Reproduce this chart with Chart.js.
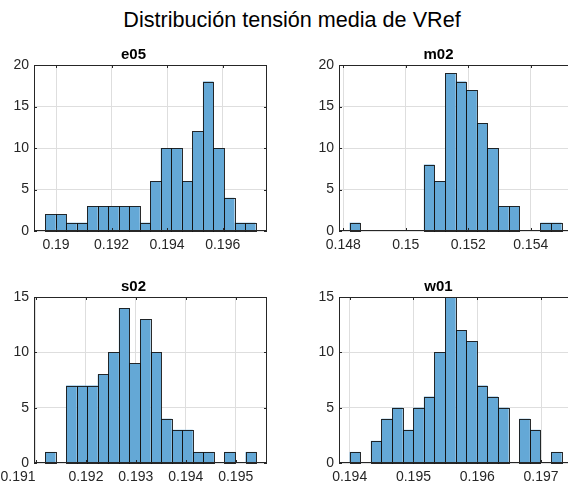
<!DOCTYPE html>
<html>
<head>
<meta charset="utf-8">
<script src="https://cdn.jsdelivr.net/npm/chart.js@4/dist/chart.umd.min.js"></script>
<style>
  html, body { margin: 0; padding: 0; background: #fff; overflow: hidden; }
  body { width: 568px; height: 487px; position: relative; }
  #suptitle {
    position: absolute; left: 8px; top: 7px; width: 568px; text-align: center;
    font: 21.6px "Liberation Sans", Arial, sans-serif; line-height: 26px; color: #000;
    white-space: nowrap;
  }
  .panel { position: absolute; }
</style>
</head>
<body>
<div id="suptitle">Distribución tensión media de VRef</div>
<div class="panel" style="left:0px;top:44px;width:284px;height:216px"><canvas id="c1"></canvas></div>
<div class="panel" style="left:305px;top:44px;width:284px;height:216px"><canvas id="c2"></canvas></div>
<div class="panel" style="left:0px;top:276px;width:284px;height:216px"><canvas id="c3"></canvas></div>
<div class="panel" style="left:305px;top:276px;width:284px;height:216px"><canvas id="c4"></canvas></div>
<script>
// Histogram counts per bin (100 samples each)
const e05Counts = [2, 2, 1, 1, 3, 3, 3, 3, 3, 1, 6, 10, 10, 6, 12, 18, 10, 4, 1, 1];
const m02Counts = [1, 0, 0, 0, 0, 0, 0, 8, 6, 19, 18, 17, 13, 10, 3, 3, 0, 0, 1, 1];
const s02Counts = [1, 0, 7, 7, 7, 8, 10, 14, 9, 13, 10, 4, 3, 3, 1, 1, 0, 1, 0, 1];
const w01Counts = [1, 0, 2, 4, 5, 3, 5, 6, 10, 15, 12, 11, 7, 6, 5, 0, 4, 3, 0, 1];

// First bin edge and bin width (V)
const e05Bins = [0.189604, 0.000379];
const m02Bins = [0.148203, 0.0003394];
const s02Bins = [0.1911804, 0.0002114];
const w01Bins = [0.194000, 0.0001662];

// Axis limits [min, max]
const e05XLim = [0.189208, 0.197595];
const m02XLim = [0.147862, 0.155323];
const s02XLim = [0.190960, 0.195627];
const w01XLim = [0.1938327, 0.1974859];

// Tick values
const e05XTicks = [0.19, 0.192, 0.194, 0.196];
const m02XTicks = [0.148, 0.15, 0.152, 0.154];
const s02XTicks = [0.191, 0.192, 0.193, 0.194, 0.195];
const w01XTicks = [0.194, 0.195, 0.196, 0.197];
const yTicks20 = [0, 5, 10, 15, 20];
const yTicks15 = [0, 5, 10, 15];

const FONT = '"Liberation Sans", Arial, sans-serif';
const AXIS_COLOR = '#262626';

// Box, inward tick marks and crisp bar outlines, drawn on top of the bars
const axesBox = {
  id: 'axesBox',
  beforeDraw(chart, args, opts) {
    // optional horizontal nudge of the first x tick label
    const shift = opts.firstLabelShift || 0;
    if (!shift) return;
    const items = chart.scales.x.getLabelItems();
    if (items.length && !items[0].shifted) {
      items[0].options.translation[0] += shift;
      items[0].shifted = true;
    }
  },
  afterDatasetsDraw(chart) {
    const { ctx, chartArea: a, scales } = chart;
    const ds = chart.data.datasets[0].data;
    ctx.save();
    ctx.lineWidth = 1;
    ctx.strokeStyle = 'rgba(20,20,20,0.9)';
    chart.getDatasetMeta(0).data.forEach((bar, i) => {
      if (!ds[i].y) return;
      const p = bar.getProps(['x', 'y', 'base', 'width'], true);
      const l = Math.round(p.x - p.width / 2), r = Math.round(p.x + p.width / 2);
      const t = Math.round(p.y), b = Math.round(p.base);
      ctx.strokeRect(l + 0.5, t + 0.5, r - l, b - t);
    });
    ctx.strokeStyle = AXIS_COLOR;
    ctx.strokeRect(a.left + 0.5, a.top + 0.5, a.right - a.left - 1, a.bottom - a.top - 1);
    const tl = 3;
    ctx.beginPath();
    scales.x.ticks.forEach(t => {
      const px = Math.round(scales.x.getPixelForValue(t.value)) + 0.5;
      ctx.moveTo(px, a.bottom); ctx.lineTo(px, a.bottom - tl);
      ctx.moveTo(px, a.top); ctx.lineTo(px, a.top + tl);
    });
    scales.y.ticks.forEach(t => {
      const py = Math.round(scales.y.getPixelForValue(t.value)) + 0.5;
      ctx.moveTo(a.left, py); ctx.lineTo(a.left + tl, py);
      ctx.moveTo(a.right, py); ctx.lineTo(a.right - tl, py);
    });
    ctx.stroke();
    ctx.restore();
  }
};

function histogram(canvasId, title, counts, bins, xLim, xTicks, yTicks, firstLabelShift) {
  const [start, width] = bins;
  const points = counts.map((c, i) => ({ x: start + (i + 0.5) * width, y: c }));
  return new Chart(document.getElementById(canvasId), {
    type: 'bar',
    data: {
      datasets: [{
        data: points,
        backgroundColor: 'rgb(100,168,214)',
        borderWidth: 0,
        barPercentage: 1,
        categoryPercentage: 1,
        inflateAmount: 0
      }]
    },
    options: {
      responsive: true,
      maintainAspectRatio: false,
      animation: false,
      layout: { padding: { top: 0, right: 17, bottom: 0, left: 0 } },
      plugins: {
        legend: { display: false },
        tooltip: { enabled: false },
        axesBox: { firstLabelShift: firstLabelShift || 0 },
        title: {
          display: true, text: title, color: '#000',
          font: { family: FONT, size: 15, weight: 'bold', lineHeight: 1.2 },
          padding: { top: 2, bottom: 1 }
        }
      },
      scales: {
        x: {
          type: 'linear',
          min: xLim[0], max: xLim[1],
          offset: false,
          afterBuildTicks: s => { s.ticks = xTicks.map(v => ({ value: v })); },
          afterFit: s => { s.height = 29; },
          grid: { color: '#dedede', drawTicks: false, offset: false },
          border: { display: false },
          ticks: {
            autoSkip: false, maxRotation: 0, padding: 6, color: AXIS_COLOR,
            font: { family: FONT, size: 14 },
            callback: v => String(v)
          }
        },
        y: {
          type: 'linear',
          min: yTicks[0], max: yTicks[yTicks.length - 1],
          afterBuildTicks: s => { s.ticks = yTicks.map(v => ({ value: v })); },
          afterFit: s => { s.width = 34; },
          grid: { color: '#dedede', drawTicks: false },
          border: { display: false },
          ticks: {
            padding: 5, color: AXIS_COLOR,
            font: { family: FONT, size: 14 },
            callback: v => String(v)
          }
        }
      }
    },
    plugins: [axesBox]
  });
}

histogram('c1', 'e05', e05Counts, e05Bins, e05XLim, e05XTicks, yTicks20);
histogram('c2', 'm02', m02Counts, m02Bins, m02XLim, m02XTicks, yTicks20);
histogram('c3', 's02', s02Counts, s02Bins, s02XLim, s02XTicks, yTicks15, -18);
histogram('c4', 'w01', w01Counts, w01Bins, w01XLim, w01XTicks, yTicks15);
</script>
</body>
</html>
